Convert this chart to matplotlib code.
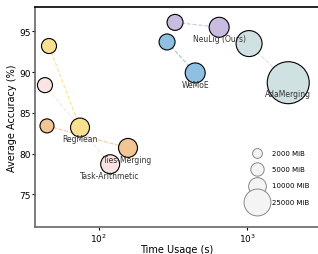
import numpy as np
import matplotlib.pyplot as plt

# methods: (small-setting point, large-setting point)
methods = ['RegMean', 'Task-Arithmetic', 'Ties-Merging', 'WeMoE', 'NeuLig (Ours)', 'AdaMerging']
colors = ['#F7E08F', '#F9E3E3', '#F2C594', '#8EC0E4', '#C9BCDF', '#D0E1E4']

time_small = [46, 43.2, 44.6, 288, 326, 1030]
acc_small = [93.2, 88.4, 83.4, 93.7, 96.1, 93.5]
mem_small = [7600, 7600, 6400, 8800, 8800, 25800]

time_large = [74.5, 119, 157, 446, 647, 1893]
acc_large = [83.2, 78.7, 80.7, 89.9, 95.5, 88.7]
mem_large = [13000, 13000, 13000, 14600, 14600, 69800]

legend_mem = [2000, 5000, 10000, 25000]


def mem_to_size(m):
    return 20 + np.asarray(m) * 0.0128


fig = plt.figure(figsize=(3.18, 2.55), dpi=100)
ax = fig.add_axes([0.110, 0.106, 0.89, 0.863])

for i, name in enumerate(methods):
    ax.plot([time_small[i], time_large[i]], [acc_small[i], acc_large[i]],
            linestyle='--', color=colors[i], linewidth=0.8, alpha=0.9, zorder=1)
    ax.scatter([time_small[i], time_large[i]], [acc_small[i], acc_large[i]],
               s=mem_to_size([mem_small[i], mem_large[i]]), color=colors[i],
               edgecolor='black', linewidth=0.8, zorder=3)
    ax.annotate(name, (time_large[i], acc_large[i]), xytext=(0, -8),
                textcoords='offset points', ha='center', va='center',
                fontsize=5.5, color='#333333', zorder=5)

# size legend
handles = [ax.scatter([], [], s=mem_to_size(m) * 1.1, color='#f4f4f4',
                      edgecolor='#888888', linewidth=0.7) for m in legend_mem]
ax.legend(handles, [f'{m} MiB' for m in legend_mem], frameon=False,
          fontsize=5, loc='lower right', bbox_to_anchor=(0.99, 0.075),
          labelspacing=1.5, handletextpad=1.2, borderpad=0.3)

ax.set_xscale('log')
ax.set_xlim(37, 3006)
ax.set_ylim(71, 98)
ax.set_yticks([75, 80, 85, 90, 95])
ax.minorticks_off()
ax.tick_params(labelsize=6.5, length=2, width=0.8, pad=1)

ax.spines['right'].set_visible(False)
ax.spines['top'].set_color('black')
ax.spines['top'].set_linewidth(1.2)
for side in ['left', 'bottom']:
    ax.spines[side].set_color('#666666')
    ax.spines[side].set_linewidth(1.2)

ax.set_xlabel('Time Usage (s)', fontsize=7, labelpad=0)
ax.set_ylabel('Average Accuracy (%)', fontsize=7, labelpad=2)

fig.savefig('out.png', dpi=100)
